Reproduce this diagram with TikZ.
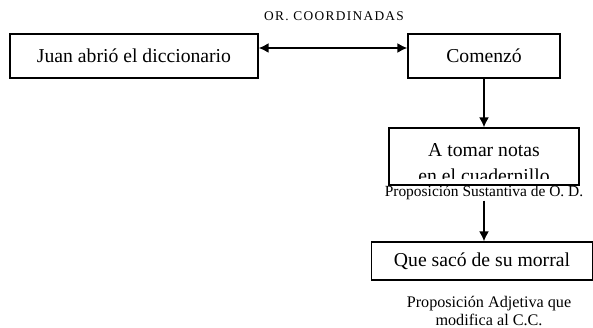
\documentclass[tikz,border=0pt]{standalone}
\usepackage{fontspec}
\setmainfont{Liberation Serif}
\usetikzlibrary{arrows.meta}

\begin{document}
\begin{tikzpicture}[x=0.025cm, y=-0.025cm,
  caja/.style={draw, line width=1pt, inner sep=0pt, font=\fontsize{14}{17}\selectfont},
  texto/.style={font=\fontsize{14}{17}\selectfont, inner sep=0pt},
  nota/.style={font=\fontsize{11}{13}\selectfont, align=center, inner sep=0pt},
  flecha/.style={line width=1pt, -{Latex[length=7pt, width=7pt]}}]
\useasboundingbox (0,0) rectangle (593,328);
% cajas
\node[font=\fontsize{9.5}{11}\selectfont\addfontfeature{LetterSpace=10}] (coord) at (334,16) {OR. COORDINADAS};
\node[caja, minimum width=6.2cm, minimum height=1.1cm] (juan) at (134,56) {Juan abrió el diccionario};
\node[caja, minimum width=3.8cm, minimum height=1.1cm] (comenzo) at (484,56) {Comenzó};
\node[caja, minimum width=4.75cm, minimum height=1.425cm,
  path picture={
    \clip ([yshift=0.175cm]path picture bounding box.south west) rectangle (path picture bounding box.north east);
    \node[texto, anchor=base] (notas1) at ([yshift=20pt]path picture bounding box.south) {A tomar notas};
    \node[texto, anchor=base, text depth=0pt] (notas2) at ([yshift=2.1pt]path picture bounding box.south) {en el cuadernillo};
  }] (notas) at (484,156.5) {};
\node[nota, anchor=base] (sust) at (484,197) {Proposición Sustantiva de O. D.};
\node[caja, minimum width=5.525cm, minimum height=0.95cm] (morral) at (482,261) {Que sacó de su morral};
\node[nota, font=\fontsize{11.5}{12.8}\selectfont] (adj) at (489,311) {Proposición Adjetiva que\\modifica al C.C.};
% flechas
\draw[flecha, {Latex[length=7pt, width=7pt]}-{Latex[length=7pt, width=7pt]}] ([yshift=0.2cm]juan.east) -- ([yshift=0.2cm]comenzo.west);
\draw[flecha] (comenzo.south) -- (comenzo.south |- notas.north);
\draw[flecha] (comenzo.south |- sust.south) -- (comenzo.south |- morral.north);
\end{tikzpicture}
\end{document}
